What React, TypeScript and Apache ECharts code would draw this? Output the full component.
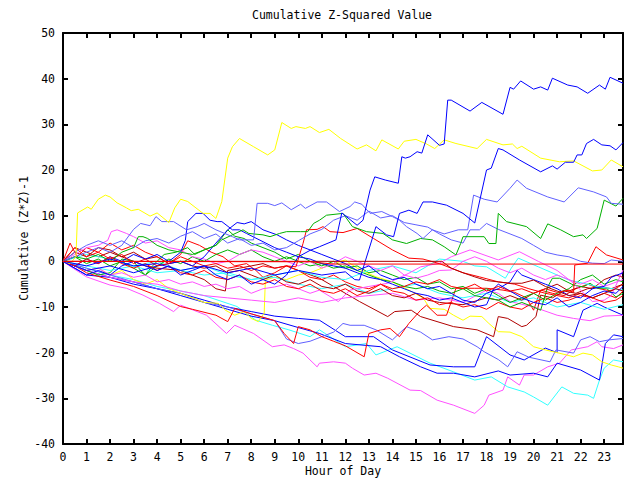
import React, { useEffect, useRef } from "react";
import * as echarts from "echarts";

const xTicks = [0, 23.8];
const yTicks = [-40, 50];

const yellowTop = [[0,0],[0.3,-0.5],[0.55,1],[0.62,10.6],[1.05,11.9],[1.2,11.4],[1.5,13.6],[1.8,14.5],[2,14.1],[2.3,12.8],[2.7,11.7],[2.9,11.1],[3.2,11.4],[3.7,9.9],[4,10.6],[4.5,8.5],[4.75,11.7],[5,13.6],[5.3,13.1],[5.95,10.5],[6.25,10.5],[6.5,9.4],[6.75,13.1],[7.0,22.6],[7.2,25.1],[7.5,26.9],[8.1,25.1],[8.7,23.3],[9.0,24.4],[9.3,30.4],[9.7,29.1],[9.9,29.5],[10.3,29.1],[10.5,29.5],[10.9,28.2],[11.3,28.9],[11.8,26.9],[12.5,24.6],[12.9,25.5],[13.3,24.2],[13.55,26.6],[14.25,24.6],[14.5,26.3],[15.0,26.7],[15.45,25.7],[15.8,24.7],[16.2,26.6],[16.7,25.8],[17.6,24.7],[18.0,26.7],[18.7,25.5],[19.1,25.7],[19.3,24.7],[19.5,25.2],[20.3,22.6],[21.1,21.8],[21.7,22.0],[22.5,19.8],[22.9,20.0],[23.3,22.2],[23.8,20.7]];

const yellowLow = [[0,0],[0.5,-1],[1,-2],[1.5,-1.5],[2,-3],[2.5,-2],[3,-4],[3.5,-5],[4,-4],[4.5,-6],[5,-7],[5.5,-8],[6,-9],[6.6,-9.2],[6.9,-10.7],[7.3,-11.8],[7.7,-11],[8.0,-12.5],[8.3,-13.2],[8.55,-11.4],[8.6,-4.1],[9.0,-3.5],[9.5,-4],[10,-3],[10.5,-2.5],[11,-1.5],[11.5,-0.5],[12,0.3],[12.5,-1.5],[13.3,-3.4],[14,-4.5],[14.7,-6.3],[15.3,-8],[15.6,-10.3],[16.2,-10.5],[16.6,-11.8],[17.0,-12.9],[17.3,-12],[17.8,-12.1],[18.1,-13.6],[18.5,-15.4],[19,-15.5],[19.5,-16.5],[20,-18.7],[20.5,-19.4],[21,-20],[21.4,-20.5],[21.7,-20.9],[22.1,-20.1],[22.5,-20.5],[22.9,-22],[23.3,-22.7],[23.6,-23.1],[23.8,-23.4]];

const blueTop = [[0,0],[0.5,-1.5],[1,-3],[1.5,-2],[2,-3],[2.5,-1],[3,0],[3.5,-1],[4,-2],[4.5,-1],[5,-3],[5.5,-2],[6,-1],[6.5,-3],[7,-4],[7.5,-3],[8,-5],[8.5,-4],[9,-5],[9.5,-3],[10,1],[10.5,2.4],[10.9,3.2],[11.6,4.7],[11.85,10.6],[12.5,7.9],[12.75,9],[13.05,15.6],[13.25,18.5],[13.7,17.8],[14.25,17.1],[14.4,22.9],[14.55,22.6],[14.75,22.9],[15.05,24],[15.25,23.7],[15.5,27.7],[16.0,25.4],[16.2,25.7],[16.35,35.3],[16.5,35.3],[17.3,32.9],[17.8,34.8],[18.7,32.2],[19.0,38.1],[19.15,37.7],[19.45,39.5],[20.0,37.7],[20.3,38.2],[20.6,37.5],[20.8,40.1],[21.45,38.6],[21.85,38.2],[22.3,36.8],[22.8,38.6],[23.05,37.7],[23.25,40.3],[23.8,39]];

const blueSecond = [[0,0],[1,-1],[2,0.5],[3,-1],[4,-0.5],[5,-2],[6,-1],[7,-2.5],[8,-1.5],[9,-3],[10,-2],[11,-3],[12,-2.3],[12.4,-4],[12.6,-4.1],[13.3,7.6],[13.75,5.8],[14.05,5.4],[14.3,10.5],[14.7,11.2],[15.05,10.5],[15.3,13],[15.7,13],[16.3,12.3],[17.0,10.5],[17.5,8.4],[18.0,20],[18.2,20.4],[18.5,24.7],[18.7,24.4],[19.4,22.2],[20.3,19.6],[20.8,20.9],[21.0,20.2],[21.35,21.7],[21.7,21.7],[21.85,23.3],[22.05,23.3],[22.25,25.8],[22.55,26.7],[22.9,25.5],[23.25,25.3],[23.5,24.4],[23.8,26]];

const lightBlueHigh = [[0,0],[0.5,1],[1,2],[1.5,3],[2,2],[2.5,3.5],[3,7],[3.3,8.3],[3.7,7.8],[3.95,9.8],[4.2,8.7],[4.7,8.7],[5.25,6.9],[5.7,7.6],[6.0,8.3],[6.5,6.9],[7.2,5.4],[7.5,4.7],[8.1,4.7],[8.25,12.7],[8.7,12.7],[9.0,12.2],[9.3,12.8],[9.7,11.3],[10.1,12.5],[10.3,11.6],[10.8,13],[11.2,13],[11.75,10.9],[12.2,12],[12.4,13],[12.7,12.5],[13.05,10.5],[13.55,10.9],[14.0,9.8],[14.3,9.0],[14.6,7.6],[15.05,6.1],[15.3,5.0],[15.7,6.9],[16.2,6],[16.8,6.9],[17.2,6.9],[17.45,14.5],[17.9,13.6],[18.45,13],[19.0,16],[19.3,17.8],[19.7,16],[20.6,14.1],[21.3,13],[21.9,16.1],[22.55,15.2],[23.1,14.1],[23.3,12.7],[23.8,12.5]];

const lightBlueMid = [[0,0],[0.5,2],[1,3.5],[1.5,4.5],[2,3.5],[2.5,4.5],[3,3],[3.5,4.5],[4,5],[4.5,4],[5,5.5],[5.5,6.5],[6,5],[6.5,6],[7,4],[7.5,5],[8,3.5],[8.5,4],[9,2.5],[9.5,3],[10,4.5],[10.5,6],[11,7],[11.5,9],[12,10],[12.5,9],[13,11],[13.5,9.5],[14,10],[14.5,8.5],[15,8],[15.5,7.5],[16,6],[16.5,4.7],[17,4],[17.3,6.9],[17.7,6.9],[18,8.3],[18.5,7],[19,6],[19.5,5],[20,3.5],[20.5,2],[21,1.4],[21.5,1],[22,0],[22.5,-0.4],[23,-0.5],[23.3,0.3],[23.8,0]];

const lightBlueLow = [[0,0],[1,-1.5],[2,-3],[3,-4.5],[4,-6],[5,-7],[6,-9],[7,-10],[8,-11.5],[9,-13],[9.5,-17],[10,-18],[10.5,-17.5],[11,-16.5],[11.5,-15.5],[11.9,-13.6],[12.2,-14],[12.8,-14],[13.3,-15],[14,-17.2],[14.6,-14.3],[15.2,-15.5],[15.7,-17.2],[16.4,-16.5],[17.0,-17],[17.6,-18.7],[17.9,-19.8],[18.5,-21.5],[18.9,-23.1],[19.3,-19.8],[19.8,-21],[20.7,-22],[20.95,-19.4],[21.7,-20.1],[22.0,-17.2],[22.4,-16.5],[22.8,-17.6],[23.2,-17.2],[23.8,-16.9]];

const greenHigh = [[0,0],[0.5,1],[1,0.5],[1.5,1.5],[2,0],[2.5,2],[3,3],[3.2,5.4],[3.4,5.4],[3.6,5],[4,3.5],[4.5,2.5],[5,2],[5.5,1.5],[6,2.5],[6.5,3.5],[6.75,4.7],[7.2,5.8],[7.65,6.9],[7.9,6.1],[8.5,5.8],[8.8,5.4],[9.2,6.1],[9.5,6.5],[10.1,6.5],[10.4,6.5],[10.65,8.3],[10.9,9.0],[11.2,10.1],[11.9,10.5],[12.3,7.6],[12.9,6.5],[13.6,6.1],[14.0,4.7],[14.6,3.9],[15.2,5],[15.7,4.7],[16.2,3.2],[16.7,1.4],[16.9,3.9],[17.0,5.4],[17.9,5.4],[18.1,3.9],[18.4,3.9],[18.5,10.5],[18.85,8.7],[19.7,7.6],[20.3,5.0],[20.6,8.2],[21.15,6.9],[21.7,5.4],[22.1,5.8],[22.25,5.0],[22.7,7.2],[23.0,13.4],[23.5,12.1],[23.8,13.8]];

const greenMid = [[0,0],[0.5,1],[1,-0.5],[1.5,0.5],[2,-1],[2.5,0],[3,-1.5],[3.5,-3],[4,-1],[4.5,0.5],[5,-0.5],[5.5,1],[6,0],[6.5,1.5],[7,2.5],[7.5,1.5],[8,2.5],[8.5,1],[9,0],[9.5,1],[10,0],[10.5,-1],[11,-0.5],[11.5,-1.5],[12,-1],[12.5,-2],[13,-3],[13.5,-4],[14,-4.5],[14.5,-5.5],[15,-6],[15.5,-5.5],[16,-6.5],[16.5,-7],[17,-6],[17.5,-7.5],[18,-8],[18.5,-8.5],[19,-10],[19.5,-9],[20,-10],[20.3,-10.7],[20.6,-5.6],[20.8,-3.7],[21.1,-3.7],[21.7,-5.2],[22.1,-5.6],[22.4,-4.8],[22.7,-5.9],[23.1,-5.9],[23.5,-7.8],[23.8,-7]];

const greenLow = [[0,0],[0.5,-1],[1,-2],[1.5,-3],[2,-2.5],[2.5,0.5],[3,0],[3.3,-2],[3.5,-3],[3.8,-1],[4.3,1.5],[4.8,2],[5.3,3],[5.6,1.5],[6,2.5],[6.5,3.5],[7,6.9],[7.3,5.5],[7.7,5],[8,4],[8.5,3],[9,2],[9.5,0.5],[10,1.5],[10.5,0],[11,-1],[11.5,0],[12,-1.5],[12.5,-1],[13,-2.5],[13.5,-2],[14,-3],[14.5,-4],[15,-3.5],[15.5,-5],[16,-4.5],[16.5,-6],[17,-5.5],[17.5,-7],[18,-6],[18.5,-7.5],[19,-9],[19.5,-8],[20,-7],[20.5,-8.5],[21,-7],[21.5,-6],[22,-4],[22.5,-3],[23,-5],[23.5,-4],[23.8,-4.5]];

const redFlat = [[0,0],[10.5,-0.1],[11.5,-0.6],[23.8,-0.6]];

const redLow = [[0,0],[0.5,-1],[1,-2.5],[2,-4.1],[3,-5.5],[4,-7.5],[5,-9.9],[5.5,-10.5],[6.5,-11.8],[7,-13.2],[7.3,-10.3],[8,-11.5],[9,-13],[9.4,-15.8],[9.8,-18],[10,-14.3],[10.5,-15],[11,-16.5],[11.5,-17.5],[12,-18.5],[12.8,-20.9],[13.0,-15.8],[13.5,-15],[13.9,-14.7],[14.3,-16.5],[14.7,-13.6],[15.2,-10.7],[15.45,-9.6],[15.9,-11.8],[16.3,-11.8],[16.7,-5.9],[17.5,-5.9],[18.0,-5.9],[18.7,-6.3],[19.2,-6.8],[19.7,-8],[20.0,-10.7],[20.3,-6.3],[20.8,-7],[21.3,-7.5],[21.8,-6],[22.3,-5],[22.8,-6],[23.3,-6.5],[23.8,-5]];

const redMid = [[0,0],[0.5,3],[1,1],[1.5,2],[2,0.5],[2.5,1.5],[3,-0.5],[3.5,0.5],[4,-1],[4.5,-0.5],[5,1],[5.5,0],[6,-1],[6.5,-0.5],[7,-1.5],[7.5,-1],[8,-2],[8.5,-1],[9,-1.5],[9.5,-1],[9.9,-1.2],[10.2,3.9],[10.35,6.9],[10.8,7],[11.05,7.6],[11.35,6.5],[11.9,6.3],[12.5,7.2],[13.2,5],[14,2.5],[14.7,0.7],[15.3,0.5],[16,-0.5],[16.5,-1.5],[17,-2.5],[17.7,-3.4],[18.5,-4.5],[19.2,-5],[19.8,-6],[20.5,-7],[21,-7.5],[21.5,-8],[22,-7],[22.5,-8],[23,-9],[23.5,-8.5],[23.8,-7.5]];

const redEarly = [[0,0],[0.3,4],[0.6,1],[1,3],[1.5,2],[2,4],[2.5,2.5],[3,3.5],[3.5,2],[4,1],[4.5,-0.5],[5,1.5],[5.3,4.5],[5.8,3.5],[6.3,2],[6.8,1],[7.3,-1],[7.8,-0.5],[8.2,-2],[8.5,-3.5],[9,-2.5],[9.5,-1],[10,-2],[10.5,-3.5],[11,-4],[11.5,-3],[12,-4.5],[12.5,-5.5],[13,-6],[13.5,-5],[14,-6.5],[14.5,-7],[15,-8.5],[15.5,-8],[16,-9.5],[16.5,-9],[17,-10],[17.5,-9.5],[18,-10.5],[18.5,-9],[19,-10],[19.5,-10.5],[20,-9],[20.5,-8],[21,-9],[21.5,-8.5],[22,-7.5],[22.5,-8],[23,-7],[23.5,-8],[23.8,-6.5]];

const redLate = [[0,0],[0.5,-1],[1,0.5],[1.5,-0.5],[2,1],[2.5,-0.5],[3,-1.5],[3.5,-0.5],[4,-2],[4.5,-1],[5,-2.5],[5.5,-3],[6,-2],[6.5,-3.5],[7,-4],[7.5,-3],[8,-4.5],[8.5,-5],[9,-4],[9.5,-5.5],[10,-6],[10.5,-5],[11,-6.5],[11.5,-7],[12,-6],[12.5,-7.5],[13,-6.5],[13.5,-5],[14,-6],[14.5,-5.5],[15,-4.5],[15.5,-5],[16,-4],[16.5,-5.5],[17,-6],[17.5,-5],[18,-6.5],[18.5,-5.5],[19,-6.5],[19.5,-6],[20,-7],[20.5,-6],[21,-6.8],[21.5,-6.3],[21.7,-6.8],[21.75,-0.8],[22.3,-0.4],[22.65,3.2],[23.1,1.4],[23.8,0.3]];

const darkRedFlat = [[0,0],[16.1,0],[16.5,-1.5],[17,-2.5],[17.5,-3.4],[18,-4.2],[18.5,-4.5],[19,-4.8],[19.5,-4.8],[20,-4.1],[20.5,-5.5],[21,-6.5],[21.5,-7.5],[22,-7],[22.5,-8],[23,-7],[23.5,-6],[23.8,-6.5]];

const darkRedLow = [[0,0],[0.5,3],[1,2],[1.5,1],[2,2],[2.5,1],[3,0],[3.5,-1],[4,-1.5],[5,-2],[5.5,-3],[6,-4],[6.5,-6],[6.9,-6.5],[7.0,-2],[7.5,-1.5],[8,-1],[8.5,-0.5],[9,-1.5],[9.5,-1],[10,-2],[10.9,-3.7],[11.5,-5.5],[12.6,-8.8],[13.8,-12.1],[14.1,-11],[14.8,-10.7],[15.2,-12.1],[16.6,-14.3],[17.6,-15],[18.3,-16.5],[18.5,-12.1],[18.9,-12.5],[19.5,-14.3],[19.7,-14],[20.1,-12.1],[20.3,-7.4],[20.8,-8],[21.3,-6.5],[21.8,-7],[22.3,-6],[22.8,-5.5],[23.3,-6],[23.8,-5]];

const darkRedMid = [[0,0],[0.5,2],[1,1],[1.5,3],[2,2.5],[2.5,1],[3,2],[3.5,0.5],[4,1],[4.5,-0.5],[5,0],[5.5,-1],[6,-1.5],[6.5,-1],[7,-2.5],[7.5,-2],[8,-3],[8.5,-4],[9,-3],[9.5,-4.5],[10,-5],[10.5,-4],[11,-5.5],[11.5,-6],[12,-5],[12.5,-6.5],[13,-7],[13.5,-6],[14,-7.5],[14.5,-8],[15,-7],[15.5,-8.5],[16,-9],[17,-9.5],[18,-8],[18.5,-8.5],[19,-7.5],[19.5,-8.5],[20,-7],[20.5,-6],[21,-5],[21.5,-6.5],[22,-5.5],[22.5,-6],[23,-4],[23.5,-3],[23.8,-3.5]];

const magentaLow = [[0,0],[0.1,-0.4],[1,-3.4],[2,-5.2],[2.7,-5.9],[3.4,-7.4],[4.1,-9.2],[4.7,-11],[5.0,-9.6],[5.7,-11],[6.1,-11.8],[6.95,-15.8],[7.3,-14],[8.1,-15.8],[8.9,-18.7],[9.4,-18.3],[9.8,-19.1],[10.2,-20.1],[10.8,-23.1],[10.9,-22.3],[11.5,-22],[12.0,-22.3],[12.3,-23.4],[12.8,-24.9],[13.3,-24.5],[13.8,-25.6],[14.75,-28.2],[15.2,-28.3],[15.9,-30.4],[16.6,-31.5],[17.5,-33.3],[17.9,-31.5],[18.1,-29.3],[18.7,-28.2],[18.9,-25.3],[19.4,-27.1],[19.6,-24.9],[20.0,-24.9],[20.6,-23.1],[20.85,-22.7],[21.1,-22.3],[21.6,-19.4],[22.3,-18.7],[22.7,-17.6],[22.9,-18.7],[23.4,-19.1],[23.8,-18.3]];

const magentaMid = [[0,0],[0.5,-1],[1,-2],[1.5,-1.5],[2,-3],[2.5,-2.5],[3,-3.5],[3.5,-3],[4,-4.5],[4.5,-4],[5,-5],[5.5,-4.5],[6,-5.5],[6.5,-5],[7,-6],[7.5,-5.5],[8,-7],[8.5,-6],[9,-5.6],[9.5,-5],[10,-6],[10.5,-7],[10.9,-6.3],[11.7,-8.8],[12.2,-6.3],[13,-5.5],[13.8,-4.8],[14.7,-2.6],[15.2,-1.2],[16,-0.4],[16.5,1],[17.3,2.5],[18.5,0.3],[19.4,2.1],[20.2,0],[21,-2],[21.7,-4.8],[22.5,-8.8],[23,-8.5],[23.3,-7.5],[23.8,-1.9]];

const magentaHigh = [[0,0],[0.5,1.5],[1,3],[1.5,3.5],[1.9,4.6],[2.05,6.5],[2.3,6.9],[2.7,6.1],[3,5.4],[3.5,4],[4,4.5],[4.5,3],[5,2.5],[5.5,1],[6,0.5],[6.5,-0.5],[7,0],[7.5,1.5],[8,2.5],[8.5,2],[9,1],[9.5,0],[10,-1],[10.5,0],[11,-1.5],[11.5,-0.5],[12,1],[12.5,0],[13,-1],[13.5,-2],[14,-1],[14.5,-3],[15,-3.7],[15.5,-3],[16,-2],[16.5,-1.9],[17,0],[17.5,1],[18,0],[18.5,-1.5],[19,-2.5],[19.5,-1.5],[20,-3],[20.5,-4],[21,-3],[21.5,-4],[22,-5],[22.5,-4],[23,-5.5],[23.8,-4]];

const magentaLate = [[0,0],[1,-2],[2,-3.5],[3,-4.5],[4,-5],[5,-6.5],[6,-7.5],[7,-8],[8,-8.5],[9,-9],[10,-8],[11,-9],[12,-8],[13,-7.5],[14,-7],[15,-8.5],[16,-8],[17,-9],[18,-6.3],[18.5,-7],[19,-8.8],[20,-10],[21,-11.8],[21.7,-12.5],[22.4,-13],[23,-12],[23.8,-11.8]];

const cyanLow = [[0,0],[1,-1.5],[2,-3],[3,-4],[4,-5.5],[5,-6.5],[6,-7.5],[7.4,-9.9],[8.2,-12.9],[8.9,-14],[9.6,-15],[10.5,-16.5],[10.9,-15],[12.0,-18.7],[12.9,-18],[13.3,-20.5],[14.2,-18.7],[15.6,-22.3],[16.6,-24.2],[17.5,-26],[18.2,-25.3],[18.9,-27.5],[19.6,-28.6],[20.0,-29.7],[20.6,-31.5],[21.2,-27.5],[21.7,-28.9],[22.3,-29.3],[22.55,-30],[22.8,-26],[23.0,-23.4],[23.4,-21.6],[23.8,-22]];

const cyanMid = [[0,0],[1,-1],[2,-2],[3,-1],[4,-2.5],[5,-2],[6,-3],[7,-2.5],[8,-4],[9,-3],[10,-2],[11,-3.5],[12,-4],[13,-2],[14,-1],[15,-2.5],[16,0.5],[17,0],[17.5,-1],[18,-1.2],[18.8,-3.7],[19.05,-1.5],[19.35,0.7],[20.2,-1.2],[21.5,-4.1],[22.8,-5.6],[23.8,-6.3]];

const cyanHigh = [[0,0],[1,1.5],[2,0.5],[3,-1],[4,0],[5,-2],[6,-1],[7,-3],[8,-4],[9,-3.5],[10,-5],[11,-6],[12,-5],[13,-7],[14,-6],[15,-5],[16,-7],[17,-8],[18,-7],[19,-9],[20,-8],[21,-10],[22,-9],[23,-10.5],[23.8,-9.5]];

const blueLowA = [[0,0],[1,-3],[2,-3.5],[3,-4.5],[4,-6],[5,-7],[6,-8.5],[7,-10],[8,-11],[9,-12],[10,-12.5],[10.9,-12.9],[12.0,-16.5],[13.2,-16.5],[14.0,-19.4],[15.6,-22.7],[16.6,-23.1],[17.5,-23.1],[18.0,-16.5],[19.0,-20.5],[19.6,-21.6],[20.5,-19],[21.0,-20],[21.0,-15],[21.7,-16.5],[22.1,-10.7],[22.7,-9.2],[23.0,-10],[23.8,-11.8]];

const blueLowB = [[0,0],[1,-2],[2,-3.5],[3,-5],[4,-6],[5,-7.5],[6,-9],[7,-10.5],[8,-12],[9,-13],[10,-14.5],[10.9,-15.8],[12.0,-18],[13.5,-18.7],[14.3,-20.9],[15.2,-23.1],[15.9,-24.5],[16.6,-24.5],[17.5,-25.3],[18.5,-24],[19.0,-24.9],[20.0,-24.5],[20.6,-25.3],[21.0,-22.3],[22.0,-23.8],[22.8,-26],[23.05,-18],[23.4,-16.1],[23.8,-16.5]];

const blueHump = [[0,0],[0.5,-1],[1,0.5],[1.5,-0.5],[2,1],[2.5,0],[3,1.5],[3.5,0.5],[4,1.5],[4.5,0],[5,2],[5.2,4.6],[5.3,8.7],[5.65,10.5],[5.95,10.5],[6.25,9],[6.55,8.7],[6.75,8.7],[7.2,6.9],[7.5,6.9],[7.8,6.1],[8.5,4.3],[9,3],[9.5,2],[10,1],[10.5,0.5],[11,-0.5],[11.5,-1],[12,-1.5],[12.5,-2.5],[13,-3.5],[13.5,-4],[14,-5],[14.5,-6],[15,-7],[15.5,-7.5],[16,-8.5],[16.5,-8],[17,-9],[17.5,-10],[18,-9.5],[18.3,-6],[18.5,-5],[19,-6.5],[19.5,-8],[20,-9],[20.5,-9.5],[21,-8],[21.5,-10],[22,-9],[22.5,-7.5],[23,-6.5],[23.5,-7],[23.8,-5.5]];

const blueHump2 = [[0,0],[1,-2],[2,-1],[3,-2.5],[4,-1],[5,0],[5.5,-1],[6,1],[6.5,4],[7,6.9],[7.4,8.5],[7.7,8.2],[8,8.7],[8.5,6.9],[9.1,5.8],[9.5,4.7],[10,3.5],[10.5,2.5],[11,1.5],[11.5,0.5],[12,-0.5],[12.5,-2],[13,-1],[13.5,-3],[14,-4],[14.5,-3.5],[15,-5],[15.5,-6],[16,-5.5],[16.5,-7],[17,-8.5],[17.5,-9],[18,-7],[18.5,-6],[19,-4.5],[19.3,-2],[19.5,-3],[20,-4],[20.5,-5],[21,-6],[21.5,-7.5],[22,-8],[22.5,-6],[23,-5.5],[23.3,-3.5],[23.8,-2.5]];

const RED = "#ff0000";
const GREEN = "#00b000";
const BLUE = "#0000ff";
const LBLUE = "#6060ff";
const MAGENTA = "#ff50ff";
const CYAN = "#30ffff";
const YELLOW = "#ffff00";
const DRED = "#b00000";

const lines: [number[][], string][] = [
  [magentaLow, MAGENTA],
  [cyanLow, CYAN],
  [blueLowB, BLUE],
  [blueLowA, BLUE],
  [lightBlueLow, LBLUE],
  [yellowLow, YELLOW],
  [redLow, RED],
  [darkRedLow, DRED],
  [magentaLate, MAGENTA],
  [cyanHigh, CYAN],
  [darkRedMid, DRED],
  [redEarly, RED],
  [greenLow, GREEN],
  [greenMid, GREEN],
  [cyanMid, CYAN],
  [magentaMid, MAGENTA],
  [magentaHigh, MAGENTA],
  [blueHump2, BLUE],
  [blueHump, BLUE],
  [redMid, RED],
  [redLate, RED],
  [lightBlueMid, LBLUE],
  [greenHigh, GREEN],
  [lightBlueHigh, LBLUE],
  [yellowTop, YELLOW],
  [blueSecond, BLUE],
  [blueTop, BLUE],
  [darkRedFlat, DRED],
  [redFlat, RED],
];

const FONT = "DejaVu Sans Mono";

export default function App() {
  const ref = useRef<HTMLDivElement>(null);
  useEffect(() => {
    if (!ref.current) return;
    const chart = echarts.init(ref.current, null, { renderer: "svg" });
    const axisLine = { show: true, onZero: false, lineStyle: { color: "#000", width: 2 } };
    const axisTick = { show: true, inside: true, length: 5, lineStyle: { color: "#000", width: 2 } };
    chart.setOption({
      animation: false,
      backgroundColor: "#fff",
      title: {
        text: "Cumulative Z-Squared Value",
        left: 252,
        top: 9,
        padding: 0,
        textStyle: { fontFamily: FONT, fontSize: 11.5, fontWeight: "normal", color: "#000" },
      },
      grid: { left: 63, right: 17, top: 33, bottom: 36, outerBoundsMode: "none", containLabel: false },
      xAxis: [
        {
          type: "value",
          min: xTicks[0],
          max: xTicks[1],
          interval: 1,
          name: "Hour of Day",
          nameLocation: "middle",
          nameGap: 21,
          nameMoveOverlap: false,
          nameTextStyle: { fontFamily: FONT, fontSize: 11.5, color: "#000" },
          axisLine,
          axisTick,
          splitLine: { show: false },
          axisLabel: {
            fontFamily: FONT,
            fontSize: 11.5,
            color: "#000",
            margin: 7,
            showMaxLabel: false,
            formatter: (v: number) => (Number.isInteger(v) ? String(v) : ""),
          },
        },
        {
          type: "value",
          position: "top",
          min: xTicks[0],
          max: xTicks[1],
          interval: 1,
          axisLine,
          axisTick,
          splitLine: { show: false },
          axisLabel: { show: false },
        },
      ],
      yAxis: [
        {
          type: "value",
          min: yTicks[0],
          max: yTicks[1],
          interval: 10,
          name: "Cumulative (Z*Z)-1",
          nameLocation: "middle",
          nameGap: 33,
          nameMoveOverlap: false,
          nameTextStyle: { fontFamily: FONT, fontSize: 11.5, color: "#000" },
          axisLine,
          axisTick,
          splitLine: { show: false },
          axisLabel: { fontFamily: FONT, fontSize: 11.5, color: "#000", margin: 8 },
        },
        {
          type: "value",
          position: "right",
          min: yTicks[0],
          max: yTicks[1],
          interval: 10,
          axisLine,
          axisTick,
          splitLine: { show: false },
          axisLabel: { show: false },
        },
      ],
      series: lines.map(([data, color], i) => ({
        type: "line",
        name: "s" + i,
        data,
        xAxisIndex: 0,
        yAxisIndex: 0,
        showSymbol: false,
        symbol: "none",
        lineStyle: { color, width: 1 },
        itemStyle: { color },
        emphasis: { disabled: true },
      })),
    });
    return () => chart.dispose();
  }, []);
  return (
    <div
      ref={ref}
      style={{ position: "fixed", left: 0, top: 0, width: 640, height: 480 }}
    />
  );
}
